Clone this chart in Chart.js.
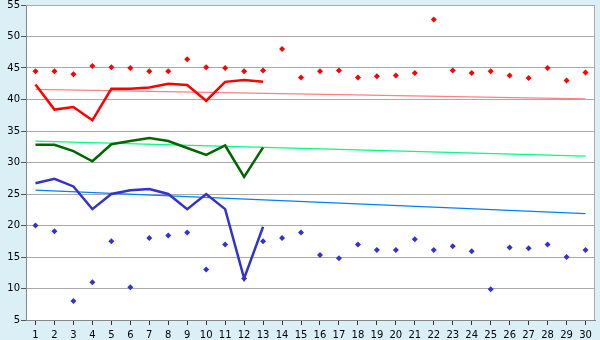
<!DOCTYPE html>
<html>
<head>
<meta charset="utf-8">
<script src="https://cdn.jsdelivr.net/npm/chart.js@4/dist/chart.umd.min.js"></script>
<style>
  html, body { margin: 0; padding: 0; background: #daf0f6; }
  #wrap { width: 600px; height: 340px; }
</style>
</head>
<body>
<div id="wrap"><canvas id="chart" width="600" height="340"></canvas></div>
<script>
// --- data ---
const days = ["1","2","3","4","5","6","7","8","9","10","11","12","13","14","15",
  "16","17","18","19","20","21","22","23","24","25","26","27","28","29","30"];

const highPoints = [44.5, 44.5, 44.0, 45.3, 45.1, 45.0, 44.5, 44.5, 46.4, 45.1,
  45.0, 44.5, 44.6, 48.0, 43.5, 44.5, 44.6, 43.5, 43.7, 43.8,
  44.2, 52.7, 44.6, 44.2, 44.5, 43.8, 43.4, 45.0, 43.0, 44.3];
const lowPoints = [20.0, 19.1, 8.0, 11.0, 17.5, 10.2, 18.0, 18.4, 18.9, 13.0,
  17.0, 11.6, 17.5, 18.0, 18.9, 15.3, 14.8, 17.0, 16.1, 16.1,
  17.8, 16.1, 16.7, 15.9, 9.9, 16.5, 16.4, 17.0, 15.0, 16.1];

const redLine = [42.4, 38.4, 38.8, 36.7, 41.7, 41.7, 41.9, 42.5, 42.3, 39.8, 42.8, 43.1, 42.8];
const greenLine = [32.8, 32.8, 31.8, 30.2, 32.9, 33.4, 33.9, 33.4, 32.3, 31.2, 32.7, 27.7, 32.4];
const blueLine = [26.7, 27.4, 26.2, 22.6, 25.0, 25.6, 25.8, 25.0, 22.6, 25.0, 22.6, 11.6, 19.8];

// trend lines: value at first and last day
const redTrend = [41.6, 40.1];
const greenTrend = [33.4, 31.0];
const blueTrend = [25.6, 21.9];

const yTicks = [5, 10, 15, 20, 25, 30, 35, 40, 45, 50, 55];

// spread a 2-value trend over the category axis (ends only, gap spanned)
function trendData(ends) {
  return days.map((d, i) => (i === 0 ? ends[0] : i === days.length - 1 ? ends[1] : null));
}

const frame = {
  id: "frame",
  afterDraw(chart) {
    const { ctx, chartArea: a } = chart;
    ctx.save();
    ctx.strokeStyle = "#aaaaaa";
    ctx.lineWidth = 1;
    ctx.beginPath();
    ctx.moveTo(a.left, a.top + 0.5);
    ctx.lineTo(a.right - 0.5, a.top + 0.5);
    ctx.lineTo(a.right - 0.5, a.bottom);
    ctx.stroke();
    ctx.restore();
  }
};

const chartBg = {
  id: "chartBg",
  beforeDraw(chart) {
    const { ctx, chartArea: a } = chart;
    ctx.save();
    ctx.fillStyle = "#ffffff";
    ctx.fillRect(a.left, a.top, a.right - a.left, a.bottom - a.top);
    ctx.restore();
  }
};

const lineSet = (data, color, width, order) => ({
  type: "line", data, borderColor: color, backgroundColor: color,
  borderWidth: width, pointRadius: 0, tension: 0, spanGaps: true, order
});
const dotSet = (data, color) => ({
  type: "line", data, showLine: false, pointStyle: "rectRot", pointRadius: 3,
  pointBorderWidth: 0, backgroundColor: color, borderColor: color, order: 0
});

const tickFont = { family: "DejaVu Sans", size: 10 };

new Chart(document.getElementById("chart"), {
  data: {
    labels: days,
    datasets: [
      dotSet(highPoints, "#ff0000"),
      dotSet(lowPoints, "#3333cc"),
      lineSet(redLine, "#ff0000", 2.5, 1),
      lineSet(greenLine, "#006600", 2.5, 1),
      lineSet(blueLine, "#3333cc", 2.5, 1),
      lineSet(trendData(redTrend), "#ff8080", 1.2, 2),
      lineSet(trendData(greenTrend), "#00ff80", 1.2, 2),
      lineSet(trendData(blueTrend), "#0080ff", 1.2, 2)
    ]
  },
  options: {
    responsive: false,
    animation: false,
    layout: { padding: { top: 5, right: 5, left: 0, bottom: 0 } },
    plugins: { legend: { display: false }, tooltip: { enabled: false } },
    scales: {
      x: {
        type: "category",
        offset: true,
        grid: { drawOnChartArea: false, drawTicks: true, tickLength: 5, color: "#333", offset: false },
        border: { color: "#888888" },
        ticks: { color: "#000", font: tickFont, padding: 4, autoSkip: false, maxRotation: 0 },
        afterFit(s) { s.height = 20; s.paddingLeft = 0; s.paddingRight = 0; }
      },
      y: {
        min: 5, max: 55,
        afterBuildTicks(s) { s.ticks = yTicks.map(v => ({ value: v })); },
        grid: { color: "#aaaaaa", tickColor: "#555", tickLength: 5 },
        border: { color: "#888888" },
        ticks: { color: "#000", font: tickFont, padding: 1 },
        afterFit(s) { s.width = 26; s.paddingTop = 0; s.paddingBottom = 0; }
      }
    }
  },
  plugins: [chartBg, frame]
});
</script>
</body>
</html>
